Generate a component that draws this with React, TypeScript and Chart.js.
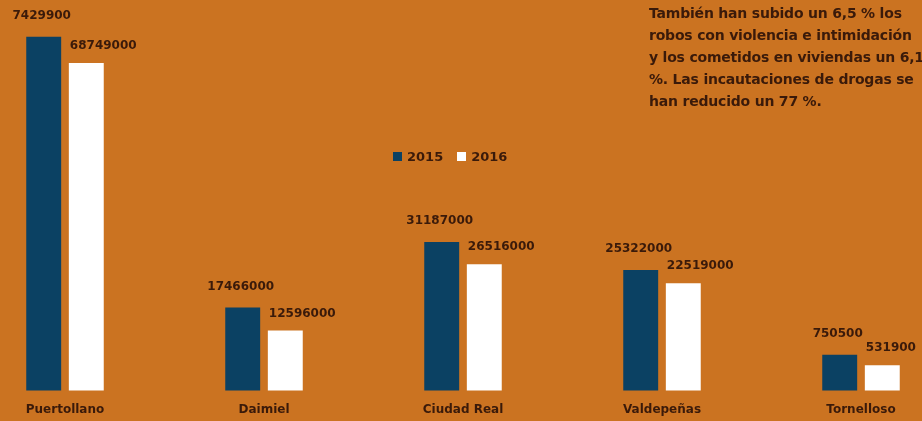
import React, { useEffect, useRef } from "react";
import { Chart, registerables } from "chart.js";

Chart.register(...registerables);

const categories = ["Puertollano", "Daimiel", "Ciudad Real", "Valdepeñas", "Tornelloso"];
const seriesNames = ["2015", "2016"];
const values2015 = [74299000, 17466000, 31187000, 25322000, 7505000];
const values2016 = [68749000, 12596000, 26516000, 22519000, 5319000];
const labels2015 = ["7429900", "17466000", "31187000", "25322000", "750500"];
const labels2016 = ["68749000", "12596000", "26516000", "22519000", "531900"];
const noteLines = [
  "También han subido un 6,5 % los",
  "robos con violencia e intimidación",
  "y los cometidos en viviendas un 6,1",
  "%. Las incautaciones de drogas se",
  "han reducido un 77 %.",
];

const BG = "#CB7321";
const BLUE = "#0B4163";
const WHITE = "#FFFFFF";
const TEXT = "#3A1A0A";
const seriesColors = [BLUE, WHITE];

const dataLabelPlugin = {
  id: "dataLabels",
  afterDatasetsDraw(chart: any) {
    const ctx = chart.ctx;
    ctx.save();
    ctx.fillStyle = TEXT;
    ctx.font = "bold 12px 'DejaVu Sans'";
    ctx.textBaseline = "middle";
    const allLabels = [labels2015, labels2016];
    chart.data.datasets.forEach((_ds: any, di: number) => {
      const meta = chart.getDatasetMeta(di);
      meta.data.forEach((bar: any, i: number) => {
        const txt = allLabels[di][i];
        if (di === 0) {
          ctx.textAlign = "center";
          ctx.fillText(txt, bar.x - 2, bar.y - 21);
        } else {
          ctx.textAlign = "left";
          ctx.fillText(txt, bar.x - bar.width / 2 + 1, bar.y - 17);
        }
      });
    });
    ctx.restore();
  },
};

export default function App() {
  const canvasRef = useRef<HTMLCanvasElement | null>(null);

  useEffect(() => {
    if (!canvasRef.current) return;
    const chart = new Chart(canvasRef.current, {
      type: "bar",
      data: {
        labels: categories,
        datasets: [
          {
            label: seriesNames[0],
            data: values2015,
            backgroundColor: seriesColors[0],
            categoryPercentage: 0.428,
            barPercentage: 0.82,
          },
          {
            label: seriesNames[1],
            data: values2016,
            backgroundColor: seriesColors[1],
            categoryPercentage: 0.428,
            barPercentage: 0.82,
          },
        ],
      },
      options: {
        animation: false,
        responsive: true,
        maintainAspectRatio: false,
        clip: false as any,
        layout: { padding: { left: 65, right: 61, top: 0, bottom: 4 } },
        plugins: {
          legend: { display: false },
          tooltip: { enabled: false },
        },
        scales: {
          x: {
            type: "category",
            offset: false,
            grid: { display: false, drawTicks: true, tickLength: 12 },
            border: { display: false },
            ticks: {
              color: TEXT,
              font: { family: "'DejaVu Sans'", size: 12, weight: "bold" },
              padding: 0,
              maxRotation: 0,
              autoSkip: false,
            },
          },
          y: {
            display: false,
            min: 0,
            max: 82000000,
          },
        },
      },
      plugins: [dataLabelPlugin],
    });
    return () => chart.destroy();
  }, []);

  return (
    <div
      style={{
        position: "fixed",
        left: 0,
        top: 0,
        width: 922,
        height: 421,
        background: BG,
        overflow: "hidden",
      }}
    >
      <canvas ref={canvasRef} />
      <div
        style={{
          position: "absolute",
          left: 649,
          top: 2,
          fontFamily: "'DejaVu Sans'",
          fontWeight: "bold",
          fontSize: 14,
          lineHeight: "22px",
          letterSpacing: "-0.2px",
          color: TEXT,
          whiteSpace: "pre",
        }}
      >
        {noteLines.map((l, i) => (
          <div key={i}>{l}</div>
        ))}
      </div>
      <div
        style={{
          position: "absolute",
          left: 393,
          top: 149,
          display: "flex",
          alignItems: "center",
          fontFamily: "'DejaVu Sans'",
          fontWeight: "bold",
          fontSize: 13,
          color: TEXT,
        }}
      >
        {seriesNames.map((n, i) => (
          <div key={n} style={{ display: "flex", alignItems: "center", marginRight: 14 }}>
            <span
              style={{
                display: "inline-block",
                width: 9,
                height: 9,
                background: seriesColors[i],
                marginRight: 5,
              }}
            />
            <span>{n}</span>
          </div>
        ))}
      </div>
    </div>
  );
}
